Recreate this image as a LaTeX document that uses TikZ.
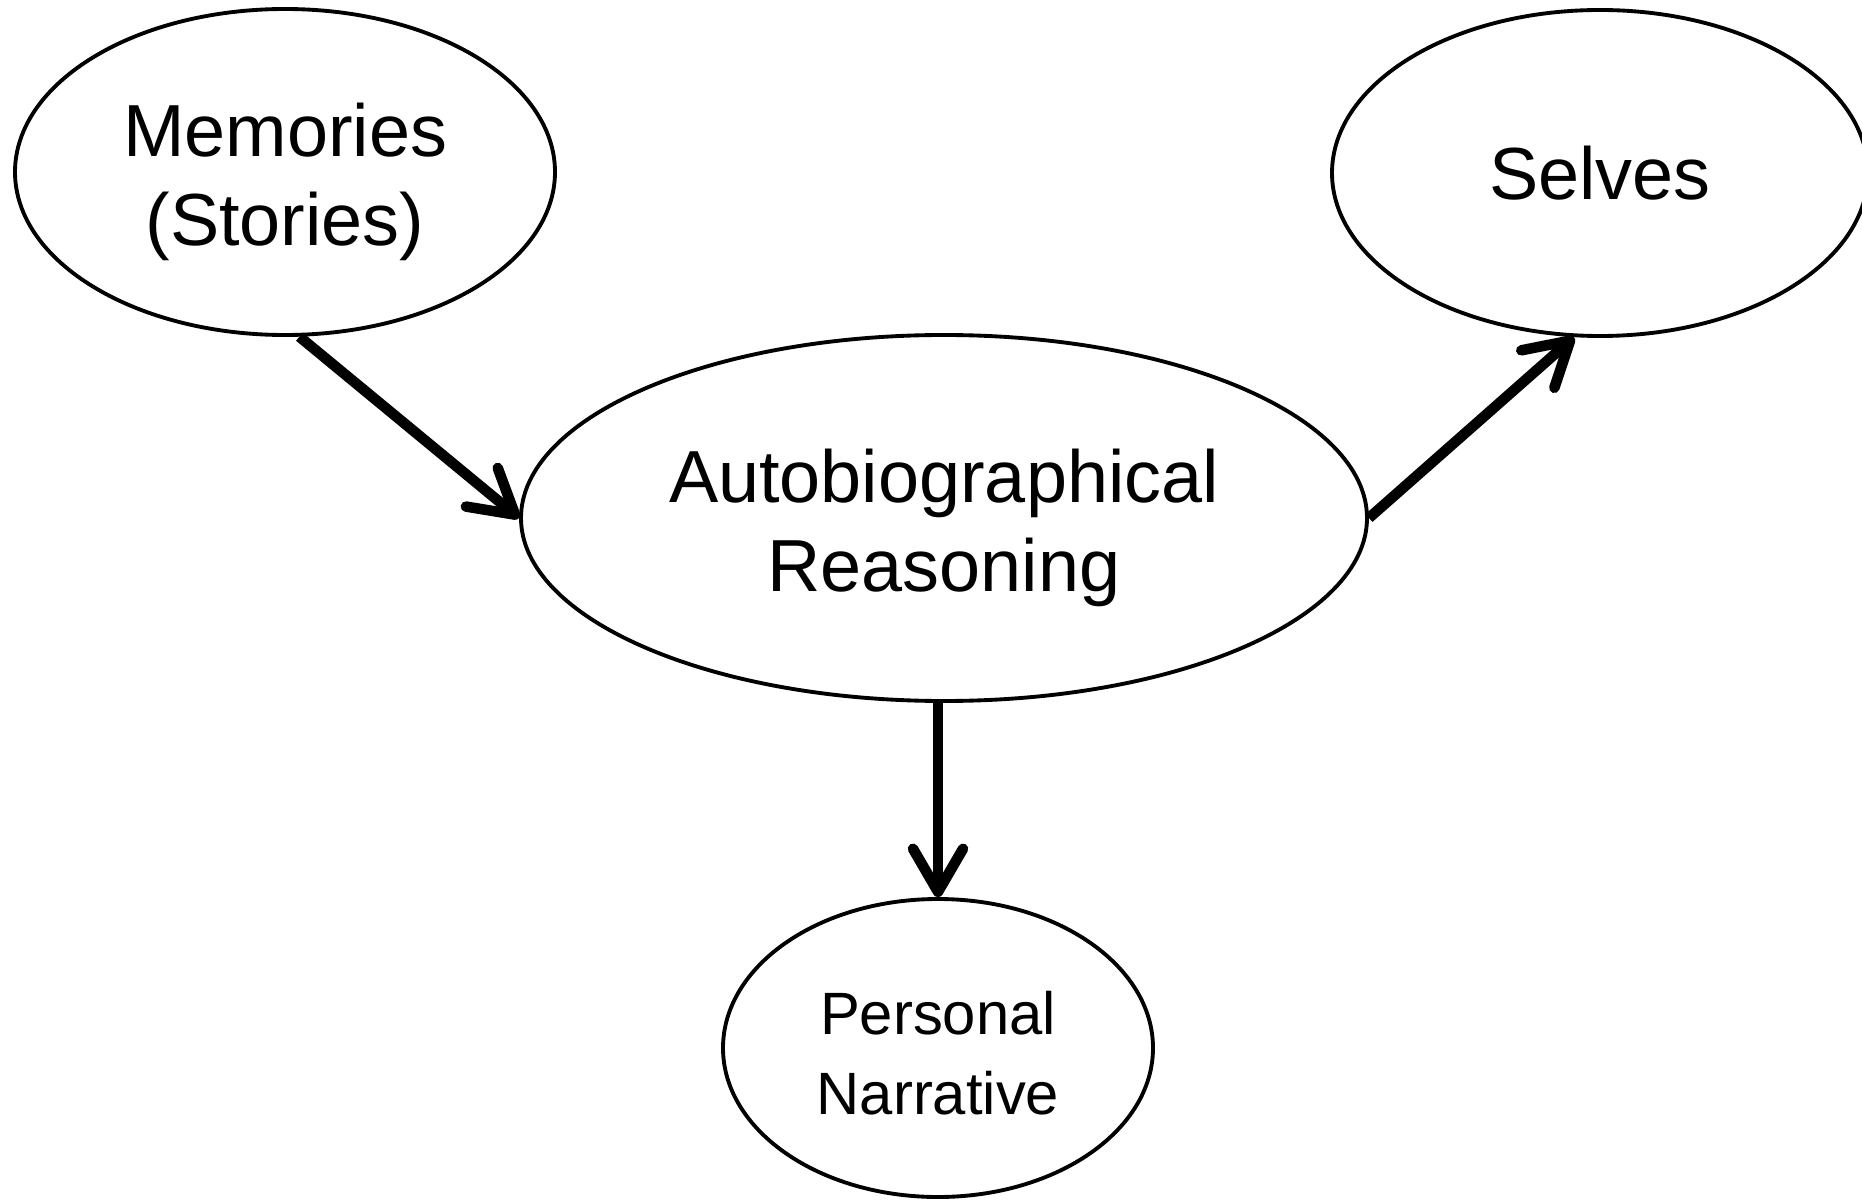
\documentclass[tikz,border=0pt]{standalone}
\usepackage{fontspec}
\setmainfont{Liberation Sans}
\usetikzlibrary{shapes.geometric,arrows.meta}
\begin{document}
\begin{tikzpicture}[
    oval/.style={
        draw,
        ellipse,
        line width=1.1pt,
        inner sep=0pt,
        align=center,
        font=\fontsize{21}{25.3}\selectfont
    },
    twoline/.style={
        text height=46.1pt
    },
    conn/.style={
        line width=3pt,
        -{Straight Barb[length=4.3mm,width=5mm,round]}
    }
    ]
    \useasboundingbox (0,0) rectangle (18.62,12);
    \node[oval,twoline,minimum width=8.46cm,minimum height=3.66cm] at (9.44,6.82)
        (auto) {Autobiographical\\Reasoning};
    \node[oval,twoline,minimum width=5.4cm,minimum height=3.26cm] at (2.85,10.28)
        (mem) {Memories\\(Stories)};
    \node[oval,minimum width=5.36cm,minimum height=3.26cm] at (16.0,10.27)
        (selves) {Selves};
    \node[oval,minimum width=4.3cm,minimum height=2.98cm,
        font=\fontsize{17}{22.8}\selectfont,text height=38pt] at (9.38,1.52)
        (pers) {Personal\\Narrative};
    \draw[conn] (mem.-85) -- (auto.west);
    \draw[conn] (auto.east) -- (selves.-99);
    \draw[conn] (pers.north |- auto.south) -- (pers.north);
\end{tikzpicture}
\end{document}
